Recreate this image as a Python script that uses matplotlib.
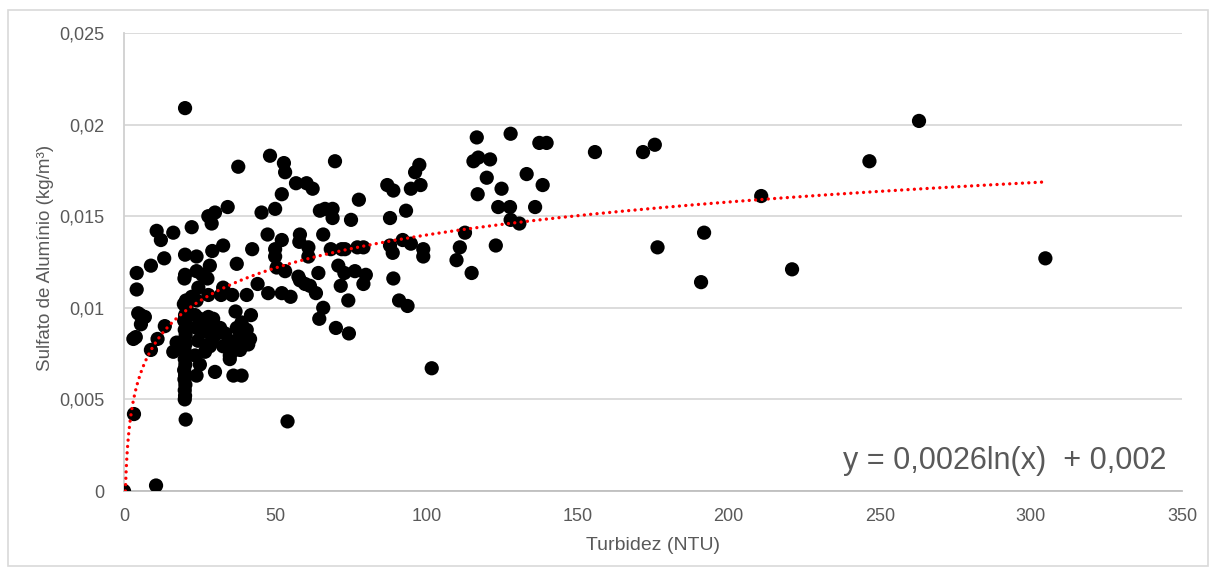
import numpy as np
import matplotlib
matplotlib.use("Agg")
import matplotlib.pyplot as plt
from matplotlib.patches import Rectangle

# ---- data ----
turbidez = [
    0.0, 10.6, 3.3, 20.2, 20.4, 54.1, 4.2, 4.2, 4.7, 5.5, 6.9, 5.6, 3.9, 3.1, 8.9, 11.1, 13.5, 16.3, 17.4,
    8.9, 10.8, 12.2, 13.3, 16.3,
    20.2, 20.2, 20.0, 20.5, 19.8, 20.8, 20.2, 19.9, 20.6, 20.1, 20.4, 19.8, 20.3, 20.0, 20.6, 20.1, 20.3,
    19.9, 20.2, 20.0, 20.3, 20.1, 20.2, 20.1,
    22.4, 24.0, 24.0, 25.9, 27.6, 24.6, 22.4, 24.0, 23.5, 25.1, 24.0, 24.5, 23.5, 25.1, 24.0,
    27.9, 32.1, 35.8, 40.6, 27.9, 29.5, 26.8, 28.4, 26.2, 30.1, 31.8, 33.4, 29.0, 26.8, 28.4,
    32.8, 35.0, 36.2, 38.9, 30.1, 35.0, 35.0,
    36.9, 38.9, 37.3, 38.4, 40.6, 41.7, 37.8, 39.4, 41.1, 36.7, 38.4,
    42.0, 44.2, 32.8, 27.9, 30.1, 29.0, 34.3, 37.8, 29.2, 32.8, 28.4, 37.3, 42.4,
    45.5, 47.5, 48.3, 50.0, 50.0, 50.0, 50.5, 53.3, 47.7, 52.2, 55.1, 52.2, 52.9, 53.3, 52.2,
    69.8, 56.9, 60.4, 62.4, 77.7, 87.1, 89.1, 96.3, 97.7, 94.9, 98.1,
    116.7, 127.9, 115.6, 117.2, 121.1, 137.4, 139.8, 120.0, 124.9, 133.2, 138.5, 117.0, 123.8, 127.7,
    136.0, 127.9, 130.8, 112.8, 111.1, 123.0, 110.0, 115.0, 101.8,
    93.3, 88.0, 75.1, 64.8, 66.5, 69.0, 69.0, 58.2, 58.0, 65.9, 61.0, 61.0, 68.4, 72.0, 73.1, 77.2, 79.2,
    88.0, 88.9, 92.2, 94.9, 99.0, 99.0,
    64.3, 70.9, 72.9, 76.4, 80.0, 79.2, 71.7, 89.1, 57.7, 58.2, 59.9, 61.5, 63.5, 65.9, 64.6, 70.1, 74.4,
    74.2, 91.0, 93.8,
    155.8, 171.7, 175.6, 176.5, 191.9, 190.9, 210.8, 221.0, 246.6, 263.0, 304.8,
]
sulfato = [
    0.0, 0.0003, 0.0042, 0.0209, 0.0039, 0.0038, 0.0119, 0.0110, 0.0097, 0.0096, 0.0095, 0.0091, 0.0084,
    0.0083, 0.0077, 0.0083, 0.0090, 0.0076, 0.0081,
    0.0123, 0.0142, 0.0137, 0.0127, 0.0141,
    0.0129, 0.0118, 0.0116, 0.0104, 0.0102, 0.0099, 0.0096, 0.0093, 0.0091, 0.0088, 0.0085, 0.0082, 0.0080,
    0.0077, 0.0074, 0.0072, 0.0069, 0.0066, 0.0063, 0.0061, 0.0058, 0.0055, 0.0052, 0.0050,
    0.0144, 0.0128, 0.0120, 0.0118, 0.0116, 0.0111, 0.0106, 0.0104, 0.0096, 0.0094, 0.0089, 0.0082, 0.0074,
    0.0069, 0.0063,
    0.0107, 0.0107, 0.0107, 0.0107, 0.0095, 0.0094, 0.0091, 0.0088, 0.0087, 0.0085, 0.0089, 0.0086, 0.0082,
    0.0076, 0.0079,
    0.0079, 0.0074, 0.0063, 0.0063, 0.0065, 0.0082, 0.0072,
    0.0098, 0.0092, 0.0089, 0.0086, 0.0088, 0.0083, 0.0082, 0.0080, 0.0080, 0.0077, 0.0077,
    0.0096, 0.0113, 0.0111, 0.0150, 0.0152, 0.0146, 0.0155, 0.0177, 0.0131, 0.0134, 0.0123, 0.0124, 0.0132,
    0.0152, 0.0140, 0.0183, 0.0154, 0.0132, 0.0128, 0.0122, 0.0120, 0.0108, 0.0108, 0.0106, 0.0162, 0.0179,
    0.0174, 0.0137,
    0.0180, 0.0168, 0.0168, 0.0165, 0.0159, 0.0167, 0.0164, 0.0174, 0.0178, 0.0165, 0.0167,
    0.0193, 0.0195, 0.0180, 0.0182, 0.0181, 0.0190, 0.0190, 0.0171, 0.0165, 0.0173, 0.0167, 0.0162, 0.0155,
    0.0155, 0.0155, 0.0148, 0.0146, 0.0141, 0.0133, 0.0134, 0.0126, 0.0119, 0.0067,
    0.0153, 0.0149, 0.0148, 0.0153, 0.0154, 0.0154, 0.0149, 0.0140, 0.0136, 0.0140, 0.0133, 0.0128, 0.0132,
    0.0132, 0.0132, 0.0133, 0.0133, 0.0134, 0.0130, 0.0137, 0.0135, 0.0132, 0.0128,
    0.0119, 0.0123, 0.0119, 0.0120, 0.0118, 0.0113, 0.0112, 0.0116, 0.0117, 0.0115, 0.0113, 0.0112, 0.0108,
    0.0100, 0.0094, 0.0089, 0.0086, 0.0104, 0.0104, 0.0101,
    0.0185, 0.0185, 0.0189, 0.0133, 0.0141, 0.0114, 0.0161, 0.0121, 0.0180, 0.0202, 0.0127,
]

# trendline coefficients as printed on the chart: y = a*ln(x) + b
trend_a = 0.0026
trend_b = 0.002
equation_text = "y = 0,0026ln(x)  + 0,002"

x_ticks = [0, 50, 100, 150, 200, 250, 300, 350]
x_tick_labels = ["0", "50", "100", "150", "200", "250", "300", "350"]
y_ticks = [0, 0.005, 0.01, 0.015, 0.02, 0.025]
y_tick_labels = ["0", "0,005", "0,01", "0,015", "0,02", "0,025"]

# ---- figure ----
plt.rcParams['font.family'] = ['Liberation Sans', 'DejaVu Sans']
W, H = 1216, 569
fig = plt.figure(figsize=(W / 100, H / 100), dpi=100)
fig.patch.set_facecolor("white")

ax = fig.add_axes([124 / W, 1 - 491 / H, (1182 - 124) / W, (491 - 33) / H])
ax.set_xlim(0, 350)
ax.set_ylim(0, 0.025)

# gridlines
ax.yaxis.grid(True, color="#d9d9d9", linewidth=1.3, zorder=0)
ax.set_axisbelow(True)
for s in ["top", "right"]:
    ax.spines[s].set_visible(False)
ax.spines["left"].set_color("#d0d0d0")
ax.spines["left"].set_linewidth(1.3)
ax.spines["bottom"].set_color("#bfbfbf")
ax.spines["bottom"].set_linewidth(1.3)

ax.set_xticks(x_ticks)
ax.set_xticklabels(x_tick_labels)
ax.set_yticks(y_ticks)
ax.set_yticklabels(y_tick_labels)
ax.tick_params(axis="both", length=0, labelsize=13, labelcolor="#595959")
ax.tick_params(axis="x", pad=12)
ax.tick_params(axis="y", pad=14)

ax.scatter(turbidez, sulfato, s=105, color="black", edgecolors="none", zorder=3)

# trendline
xpos = np.array([v for v in turbidez if v > 0])
xt = np.linspace(np.exp(-trend_b / trend_a), xpos.max(), 1200)
yt = trend_a * np.log(xt) + trend_b
ax.plot(xt, yt, color="#ff0000", linestyle=(0, (0.01, 1.9)), linewidth=2.4, zorder=4,
        dash_capstyle="round", solid_capstyle="round")

fig.text(1166 / W, 1 - 461 / H, equation_text, fontsize=22, color="#595959",
         ha="right", va="center")

fig.text(653 / W, 1 - 546 / H, "Turbidez (NTU)", ha="center", va="center",
         fontsize=14, color="#595959")
fig.text(46 / W, 1 - 258 / H, "Sulfato de Alumínio (kg/m³)", ha="center", va="center",
         rotation=90, fontsize=13.5, color="#595959")

# outer chart border
fig.patches.append(Rectangle((8 / W, 3 / H), 1200 / W, (H - 13) / H, transform=fig.transFigure,
                             fill=False, edgecolor="#d9d9d9", linewidth=1.2))

fig.savefig("out.png", dpi=100, facecolor="white")
